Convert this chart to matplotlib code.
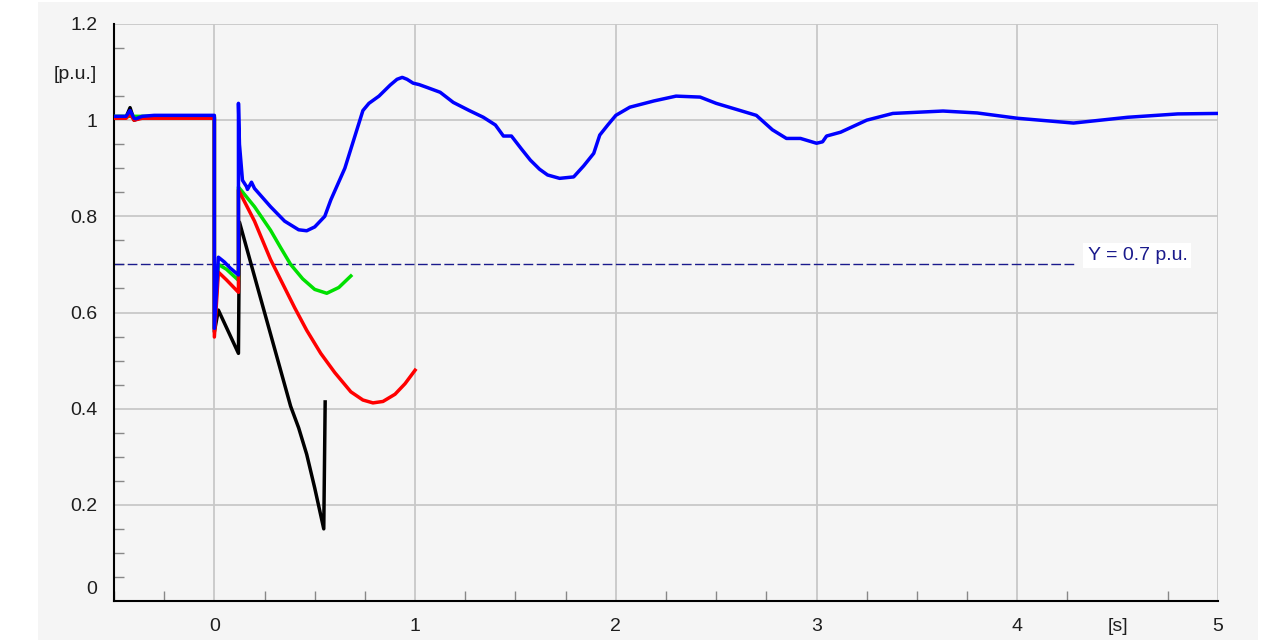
import matplotlib.pyplot as plt
from matplotlib.patches import Rectangle
from matplotlib.ticker import MultipleLocator

# time [s] / voltage [p.u.] for each case
t_blue = [-0.5, -0.44, -0.42, -0.40, -0.39, -0.36, -0.3, 0.0, 0.0, 0.02, 0.05, 0.08,
          0.12, 0.12, 0.125, 0.14, 0.16, 0.165, 0.185, 0.2, 0.28, 0.35, 0.42, 0.46,
          0.5, 0.55, 0.58, 0.65, 0.71, 0.74, 0.77, 0.82, 0.876, 0.91, 0.936, 0.96,
          0.99, 1.02, 1.06, 1.125, 1.19, 1.27, 1.34, 1.40, 1.44, 1.48, 1.53, 1.574,
          1.62, 1.66, 1.72, 1.79, 1.84, 1.89, 1.92, 1.96, 2.0, 2.07, 2.19, 2.3, 2.42,
          2.5, 2.58, 2.70, 2.78, 2.85, 2.92, 3.0, 3.03, 3.05, 3.12, 3.25, 3.38, 3.63,
          3.8, 4.0, 4.28, 4.55, 4.8, 5.0]
v_blue = [1.008, 1.008, 1.02, 1.004, 1.003, 1.008, 1.01, 1.01, 0.567, 0.715, 0.705,
          0.692, 0.678, 1.035, 0.95, 0.875, 0.862, 0.856, 0.871, 0.858, 0.82, 0.79,
          0.772, 0.77, 0.778, 0.80, 0.834, 0.9, 0.98, 1.02, 1.035, 1.05, 1.073, 1.085,
          1.089, 1.085, 1.077, 1.074, 1.068, 1.058, 1.037, 1.02, 1.006, 0.99, 0.967,
          0.967, 0.94, 0.917, 0.898, 0.886, 0.879, 0.882, 0.905, 0.931, 0.969, 0.99,
          1.010, 1.027, 1.04, 1.05, 1.048, 1.035, 1.025, 1.01, 0.98, 0.962, 0.962,
          0.952, 0.955, 0.967, 0.975, 1.0, 1.014, 1.019, 1.015, 1.004, 0.994, 1.006,
          1.013, 1.014]

t_red = [-0.5, -0.44, -0.42, -0.40, -0.36, 0.0, 0.0, 0.02, 0.06, 0.12, 0.12, 0.2,
         0.28, 0.34, 0.40, 0.46, 0.53, 0.6, 0.68, 0.74, 0.79, 0.84, 0.9, 0.95, 1.0]
v_red = [1.004, 1.004, 1.012, 1.0, 1.004, 1.004, 0.549, 0.684, 0.668, 0.642, 0.855,
         0.79, 0.71, 0.66, 0.61, 0.563, 0.515, 0.475, 0.435, 0.418, 0.412, 0.415,
         0.43, 0.452, 0.48]

t_green = [-0.5, 0.0, 0.0, 0.02, 0.06, 0.12, 0.12, 0.2, 0.28, 0.33, 0.38, 0.44,
           0.5, 0.56, 0.62, 0.68]
v_green = [1.008, 1.008, 0.567, 0.70, 0.69, 0.667, 0.861, 0.82, 0.771, 0.735, 0.70,
           0.67, 0.648, 0.64, 0.652, 0.676]

t_black = [-0.5, -0.44, -0.42, -0.40, -0.36, 0.0, 0.0, 0.02, 0.12, 0.125, 0.21,
           0.28, 0.35, 0.38, 0.42, 0.46, 0.50, 0.545, 0.552]
v_black = [1.006, 1.006, 1.026, 1.0, 1.006, 1.006, 0.56, 0.605, 0.515, 0.788, 0.66,
           0.555, 0.45, 0.405, 0.36, 0.305, 0.235, 0.15, 0.414]

y_limit = 0.7
x_ticks = [0, 1, 2, 3, 4, 4.5, 5]
x_labels = ["0", "1", "2", "3", "4", "[s]", "5"]
y_ticks = [0, 0.2, 0.4, 0.6, 0.8, 1.0, 1.1, 1.2]
y_labels = ["", "0.2", "0.4", "0.6", "0.8", "1", "[p.u.]", "1.2"]

plt.rcParams["font.family"] = ["Liberation Sans", "DejaVu Sans"]
bg = "#f5f5f5"
grid_c = "#c8c8c8"
txt_c = "#1e1e1e"

fig = plt.figure(figsize=(12.65, 6.42), dpi=100, facecolor="white")
fig.patches.append(Rectangle((38 / 1265, 2 / 642), 1220 / 1265, 638 / 642,
                             transform=fig.transFigure, facecolor=bg,
                             edgecolor="none", zorder=-10))
ax = fig.add_axes([114 / 1265, 41 / 642, 1104 / 1265, 577 / 642])
ax.set_facecolor(bg)

lw = 2.5
ax.plot(t_black, v_black, color="black", lw=lw, zorder=3)
ax.plot(t_green, v_green, color="#00e000", lw=lw, zorder=4)
ax.plot(t_red, v_red, color="#ff0000", lw=lw, zorder=5)
ax.plot(t_blue, v_blue, color="#0000ff", lw=lw, zorder=6)

ax.plot([-0.5, 4.3], [y_limit, y_limit], color="#1a1a8c", lw=1.0,
        dashes=(7, 2.5), zorder=2)
ax.text(4.35, y_limit + 0.018, "Y = 0.7 p.u.", color="#1a1a8c", fontsize=14,
        ha="left", va="center", zorder=7,
        bbox=dict(facecolor="white", edgecolor="none", pad=3))

ax.set_xlim(-0.5, 5)
ax.set_ylim(0, 1.2)

ax.set_xticks(x_ticks)
ax.set_xticklabels(x_labels)
ax.set_yticks(y_ticks)
ax.set_yticklabels(y_labels)
ax.xaxis.set_minor_locator(MultipleLocator(0.25))
ax.yaxis.set_minor_locator(MultipleLocator(0.05))
ax.tick_params(which="major", length=0, labelsize=14, labelcolor=txt_c)
ax.tick_params(axis="x", which="major", pad=12)
ax.tick_params(axis="y", which="major", pad=12)
ax.tick_params(which="minor", direction="in", length=7, width=1, color="#888888")

ax.annotate("0", xy=(0, 0), xycoords=("axes fraction", "data"),
            xytext=(-12, 8), textcoords="offset points", ha="right",
            va="center", fontsize=14, color=txt_c)

for xv in [0, 1, 2, 3, 4, 5]:
    ax.axvline(xv, color=grid_c, lw=1.3, zorder=1)
for yv in [0.2, 0.4, 0.6, 0.8, 1.0, 1.2]:
    ax.axhline(yv, color=grid_c, lw=1.3, zorder=1)

for s in ["top", "right"]:
    ax.spines[s].set_visible(False)
for s in ["left", "bottom"]:
    ax.spines[s].set_linewidth(1.5)
    ax.spines[s].set_color("black")

fig.savefig("out.png", dpi=100, facecolor="white")
